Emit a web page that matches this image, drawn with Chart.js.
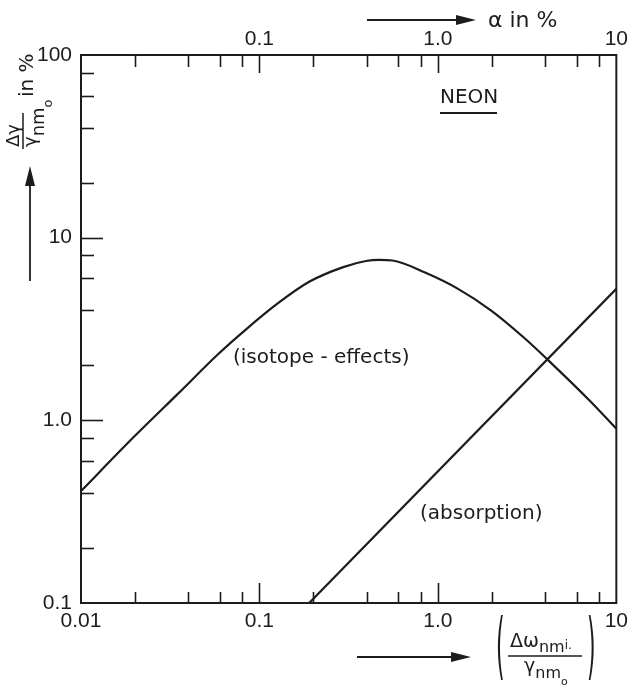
<!DOCTYPE html>
<html>
<head>
<meta charset="utf-8">
<script src="https://cdn.jsdelivr.net/npm/chart.js@4.4.1/dist/chart.umd.min.js"></script>
<style>
  html, body { margin: 0; padding: 0; background: #fff; }
</style>
</head>
<body>
<canvas id="grafico" width="634" height="693"></canvas>
<script>
//*********************************************
// datos de las curvas (escala log-log)
//*********************************************
var decadasX = [0.01, 0.1, 1, 10]
var etiquetasX = ['0.01', '0.1', '1.0', '10']
var etiquetasXArriba = ['', '0.1', '1.0', '10']
var decadasY = [0.1, 1, 10, 100]
var etiquetasY = ['0.1', '1.0', '10', '100']
var menores = [2, 4, 6, 8] // marcas menores dentro de cada década

// (isotope-effects)
var isoX = [0.01, 0.02, 0.035, 0.0586, 0.0826, 0.126, 0.191, 0.295, 0.395, 0.47, 0.557, 0.847, 1.29, 1.99, 3.03, 4.16, 7.1, 10]
var isoY = [0.41, 0.82, 1.40, 2.30, 3.10, 4.35, 5.75, 6.90, 7.45, 7.55, 7.5, 6.44, 5.26, 3.99, 2.84, 2.13, 1.28, 0.9]

// (absorption)
var absX = [0.19, 10]
var absY = [0.1, 5.25]

const tinta = '#1c1c1c'
const fuenteEjes = '"Liberation Sans Narrow", "Liberation Sans", sans-serif'
const fuenteTexto = '"DejaVu Sans", sans-serif'

const puntos = (xs, ys) => xs.map((x, i) => ({ x: x, y: ys[i] }))

const buscarDecada = (v, decadas) => decadas.findIndex(d => Math.abs(Math.log10(v) - Math.log10(d)) < 1e-6)

// flecha con punta rellena
function flecha(ctx, x1, y1, x2, y2) {
    const ang = Math.atan2(y2 - y1, x2 - x1)
    const largo = 20, ancho = 5
    ctx.beginPath()
    ctx.moveTo(x1, y1)
    ctx.lineTo(x2 - largo * Math.cos(ang), y2 - largo * Math.sin(ang))
    ctx.stroke()
    ctx.beginPath()
    ctx.moveTo(x2, y2)
    ctx.lineTo(x2 - largo * Math.cos(ang) - ancho * Math.sin(ang), y2 - largo * Math.sin(ang) + ancho * Math.cos(ang))
    ctx.lineTo(x2 - largo * Math.cos(ang) + ancho * Math.sin(ang), y2 - largo * Math.sin(ang) - ancho * Math.cos(ang))
    ctx.closePath()
    ctx.fill()
}

// texto con subíndices: trozos [texto, tamaño, desplazamiento vertical]
function textoCompuesto(ctx, trozos, x, y) {
    let cx = x
    trozos.forEach(t => {
        ctx.font = t[1] + 'px ' + fuenteTexto
        ctx.fillText(t[0], cx, y + t[2])
        cx += ctx.measureText(t[0]).width
    })
    return cx
}

function parentesis(ctx, ch, x, yCentro) {
    ctx.save()
    ctx.translate(x, yCentro)
    ctx.scale(1, 3.3)
    ctx.font = '22px ' + fuenteTexto
    ctx.textBaseline = 'middle'
    ctx.fillText(ch, 0, 0)
    ctx.restore()
}

//*********************************************
// plugin: marco, marcas hacia adentro y rótulos
//*********************************************
const marcas = {
    id: 'marcas',
    afterDraw(chart) {
        const ctx = chart.ctx
        const a = chart.chartArea
        const sx = chart.scales.x
        const sy = chart.scales.y
        ctx.save()
        ctx.strokeStyle = tinta
        ctx.fillStyle = tinta
        ctx.lineWidth = 2

        // marco
        ctx.strokeRect(a.left, a.top, a.right - a.left, a.bottom - a.top)

        // marcas del eje x (abajo y arriba)
        ctx.lineWidth = 1.6
        decadasX.forEach(d => {
            [1].concat(menores).forEach(m => {
                const v = d * m
                if (v <= sx.min * 1.0001 || v >= sx.max * 0.9999) return
                const px = Math.round(sx.getPixelForValue(v)) + 0.5
                const mayor = m === 1
                ctx.beginPath()
                ctx.moveTo(px, a.bottom)
                ctx.lineTo(px, a.bottom - (mayor ? 20 : 11))
                ctx.moveTo(px, a.top)
                ctx.lineTo(px, a.top + (mayor ? 18 : 12))
                ctx.stroke()
            })
        })
        // marcas del eje y
        decadasY.forEach(d => {
            [1].concat(menores).forEach(m => {
                const v = d * m
                if (v <= sy.min * 1.0001 || v >= sy.max * 0.9999) return
                const py = Math.round(sy.getPixelForValue(v)) + 0.5
                ctx.beginPath()
                ctx.moveTo(a.left, py)
                ctx.lineTo(a.left + (m === 1 ? 22 : 13), py)
                ctx.stroke()
            })
        })

        // rótulos de las curvas
        ctx.font = '20px ' + fuenteTexto
        ctx.textBaseline = 'alphabetic'
        ctx.fillText('(isotope - effects)', 233, 363)
        ctx.fillText('(absorption)', 420, 519)
        ctx.fillText('NEON', 440, 103)
        ctx.lineWidth = 2
        ctx.beginPath()
        ctx.moveTo(440, 113)
        ctx.lineTo(497, 113)
        ctx.stroke()

        // eje superior: α in %
        ctx.lineWidth = 1.8
        flecha(ctx, 367, 20, 476, 20)
        ctx.font = '22px ' + fuenteTexto
        ctx.fillText('α in %', 488, 27)

        // eje inferior: (Δω_nmi / γ_nm0)
        flecha(ctx, 357, 657, 471, 657)
        parentesis(ctx, '(', 496, 652)
        parentesis(ctx, ')', 587, 652)
        textoCompuesto(ctx, [['Δω', 19, 0], ['nm', 16, 5], ['i.', 12, 2]], 510, 647)
        ctx.lineWidth = 1.5
        ctx.beginPath()
        ctx.moveTo(508, 656)
        ctx.lineTo(582, 656)
        ctx.stroke()
        textoCompuesto(ctx, [['γ', 19, 0], ['nm', 16, 6], ['o', 11, 13]], 524, 672)

        // eje vertical: Δγ/γ_nm0 in %, girado
        ctx.save()
        ctx.translate(23, 149)
        ctx.rotate(-Math.PI / 2)
        textoCompuesto(ctx, [['Δγ', 18, 0]], 2, -4)
        ctx.lineWidth = 1.5
        ctx.beginPath()
        ctx.moveTo(0, 0)
        ctx.lineTo(36, 0)
        ctx.stroke()
        textoCompuesto(ctx, [['γ', 18, 0], ['nm', 18, 8], ['o', 13, 16]], 2, 13)
        ctx.font = '20px ' + fuenteTexto
        ctx.fillText('in %', 52, 10)
        ctx.restore()
        ctx.lineWidth = 1.8
        flecha(ctx, 30, 281, 30, 166)

        ctx.restore()
    }
}

//*********************************************
// gráfico
//*********************************************
const ejeLog = (min, max, posicion, decadas, etiquetas, padding) => ({
    type: 'logarithmic',
    position: posicion,
    min: min,
    max: max,
    grid: { display: false, drawTicks: false },
    border: { display: false },
    ticks: {
        autoSkip: false,
        maxRotation: 0,
        padding: padding,
        color: tinta,
        font: { family: fuenteEjes, size: 21 },
        callback: function (v) {
            const i = buscarDecada(v, decadas)
            return i >= 0 ? etiquetas[i] : ''
        }
    }
})

const ctx = document.getElementById('grafico').getContext('2d')
const grafico = new Chart(ctx, {
    type: 'scatter',
    data: {
        datasets: [{
            label: '(isotope-effects)',
            data: puntos(isoX, isoY),
            showLine: true,
            borderColor: tinta,
            borderWidth: 2.2,
            pointRadius: 0,
            cubicInterpolationMode: 'monotone',
            fill: false
        }, {
            label: '(absorption)',
            data: puntos(absX, absY),
            showLine: true,
            borderColor: tinta,
            borderWidth: 2.2,
            pointRadius: 0,
            tension: 0,
            fill: false
        }]
    },
    options: {
        responsive: false,
        animation: false,
        layout: { padding: { left: 0, right: 10, top: 0, bottom: 0 } },
        plugins: {
            legend: { display: false },
            tooltip: { enabled: false }
        },
        scales: {
            x: Object.assign(ejeLog(0.01, 10, 'bottom', decadasX, etiquetasX, 6), {
                afterFit: s => { s.height = 90 }
            }),
            x2: Object.assign(ejeLog(0.01, 10, 'top', decadasX, etiquetasXArriba, 3), {
                afterFit: s => { s.height = 55 }
            }),
            y: Object.assign(ejeLog(0.1, 100, 'left', decadasY, etiquetasY, 9), {
                afterFit: s => { s.width = 81 }
            })
        }
    },
    plugins: [marcas]
})
</script>
</body>
</html>
